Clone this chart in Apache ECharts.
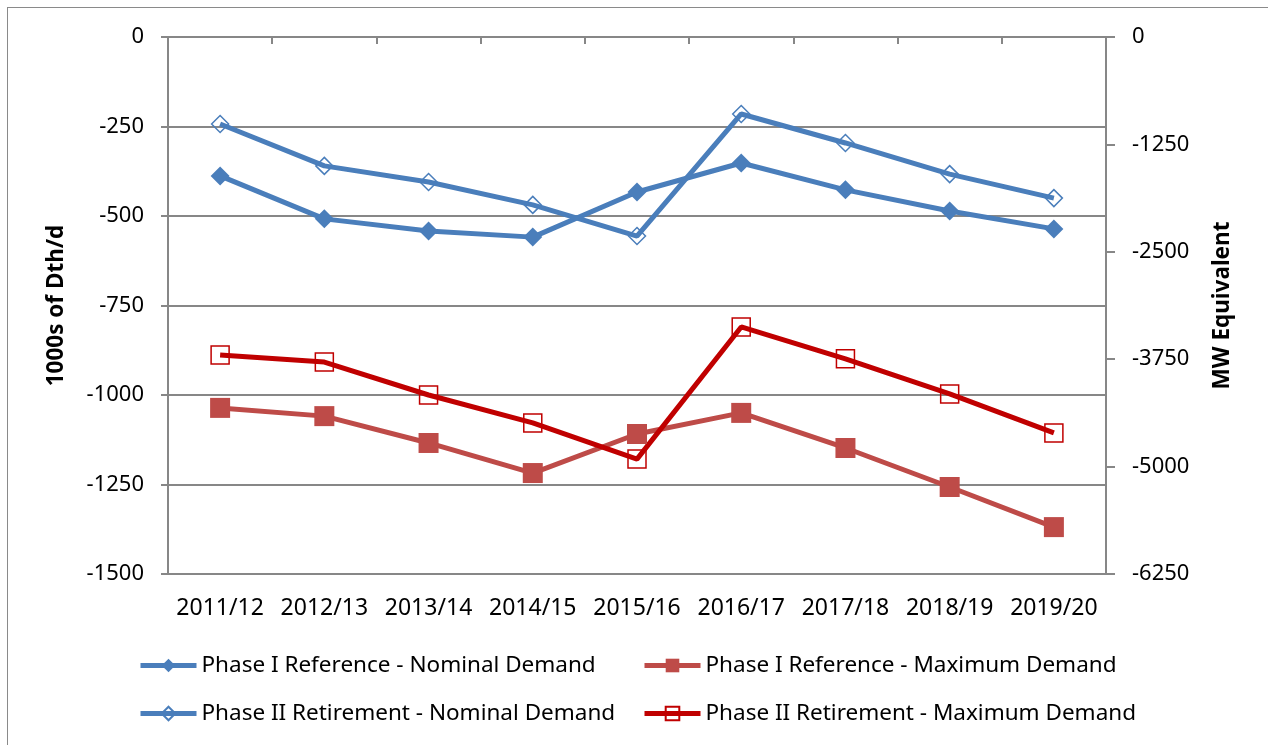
<!DOCTYPE html>
<html>
<head>
<meta charset="utf-8">
<script src="https://cdn.jsdelivr.net/npm/echarts@6/dist/echarts.min.js"></script>
<style>
  html, body { margin: 0; padding: 0; background: #fff; }
  .frame {
    position: absolute;
    left: 7px;
    top: 7px;
    width: 1300px;
    height: 800px;
    border: 1px solid #8a8a8a;
  }
  #chart { position: absolute; left: 0; top: 0; width: 1268px; height: 745px; }
</style>
</head>
<body>
<div class="frame"></div>
<div id="chart"></div>
<script>
// category labels
var years = ["2011/12", "2012/13", "2013/14", "2014/15", "2015/16", "2016/17", "2017/18", "2018/19", "2019/20"];

// 1000s of Dth/d
var p1Nominal = [-388, -508, -542, -559, -433, -352, -427, -486, -536];
var p2Nominal = [-243, -360, -405, -469, -556, -215, -296, -383, -450];
var p1Maximum = [-1036, -1059, -1134, -1218, -1109, -1050, -1148, -1257, -1369];
var p2Maximum = [-888, -908, -1000, -1078, -1179, -810, -899, -997, -1106];

var names = [
  "Phase I Reference - Nominal Demand",
  "Phase I Reference - Maximum Demand",
  "Phase II Retirement - Nominal Demand",
  "Phase II Retirement - Maximum Demand",
];

var font = "Noto Sans";
var axisGray = "#878787";
var plain = function (v) { return String(v); };

var myChart = echarts.init(document.getElementById("chart"));

var legendBase = {
  orient: "vertical",
  top: 649,
  itemWidth: 56,
  itemHeight: 17,
  itemGap: 25,
  lineStyle: { width: 5 },
  textStyle: { fontFamily: font, fontSize: 22.5, color: "#000" },
};

myChart.setOption({
  animation: false,
  textStyle: { fontFamily: font, color: "#000" },
  grid: { left: 168, right: 162, top: 37, bottom: 171 },
  legend: [
    Object.assign({}, legendBase, { left: 133, data: [names[0], names[2]] }),
    Object.assign({}, legendBase, { left: 637, data: [names[1], names[3]] }),
  ],
  xAxis: {
    type: "category",
    data: years,
    boundaryGap: true,
    axisLine: { lineStyle: { color: axisGray, width: 2 } },
    axisTick: { show: true, length: 7, lineStyle: { color: axisGray, width: 2 } },
    axisLabel: { fontFamily: font, fontSize: 23, color: "#000", margin: 23, interval: 0 },
  },
  yAxis: [
    {
      type: "value",
      min: -1500,
      max: 0,
      interval: 250,
      name: "1000s of Dth/d",
      nameLocation: "middle",
      nameGap: 100,
      nameTextStyle: { fontFamily: font, fontSize: 22.5, fontWeight: "bold", color: "#000" },
      axisLine: { show: true, lineStyle: { color: axisGray, width: 2 } },
      axisTick: { show: true, length: 7, lineStyle: { color: axisGray, width: 2 } },
      axisLabel: { fontFamily: font, fontSize: 22, color: "#000", margin: 24, formatter: plain },
      splitLine: { show: true, lineStyle: { color: axisGray, width: 2 } },
    },
    {
      type: "value",
      position: "right",
      min: -6250,
      max: 0,
      interval: 1250,
      name: "MW Equivalent",
      nameLocation: "middle",
      nameGap: 105,
      nameTextStyle: { fontFamily: font, fontSize: 22.5, fontWeight: "bold", color: "#000" },
      axisLine: { show: true, lineStyle: { color: axisGray, width: 2 } },
      axisTick: { show: true, length: 9, lineStyle: { color: axisGray, width: 2 } },
      axisLabel: { fontFamily: font, fontSize: 22, color: "#000", margin: 26, formatter: plain },
      splitLine: { show: false },
    },
  ],
  series: [
    {
      name: names[0],
      type: "line",
      data: p1Nominal,
      symbol: "diamond",
      symbolSize: 19,
      lineStyle: { color: "#4a7ebb", width: 5 },
      itemStyle: { color: "#4a7ebb" },
    },
    {
      name: names[1],
      type: "line",
      data: p1Maximum,
      symbol: "rect",
      symbolSize: 20,
      lineStyle: { color: "#be4b48", width: 5 },
      itemStyle: { color: "#be4b48" },
    },
    {
      name: names[2],
      type: "line",
      data: p2Nominal,
      symbol: "diamond",
      symbolSize: 17,
      lineStyle: { color: "#4a7ebb", width: 5 },
      itemStyle: { color: "rgba(255,255,255,0)", borderColor: "#4a7ebb", borderWidth: 1.5 },
    },
    {
      name: names[3],
      type: "line",
      data: p2Maximum,
      symbol: "rect",
      symbolSize: 18,
      lineStyle: { color: "#c00000", width: 5 },
      itemStyle: { color: "rgba(255,255,255,0)", borderColor: "#c00000", borderWidth: 1.5 },
    },
  ],
});
</script>
</body>
</html>
